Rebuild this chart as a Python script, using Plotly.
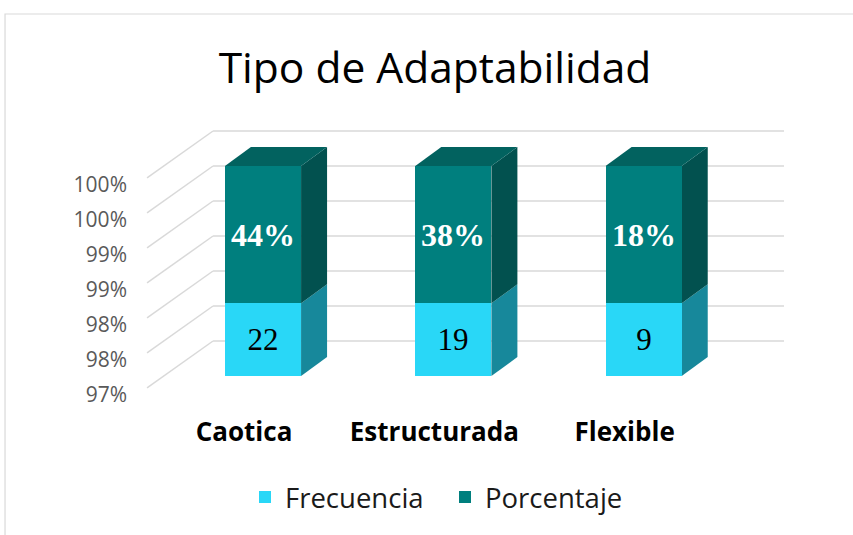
import plotly.graph_objects as go

# ---- data ----
categories = ["Caotica", "Estructurada", "Flexible"]
frecuencia = [22, 19, 9]
porcentaje = [0.44, 0.38, 0.18]
pct_labels = ["44%", "38%", "18%"]
y_tick_vals = [0.97, 0.975, 0.98, 0.985, 0.99, 0.995, 1.0]
y_tick_text = ["97%", "98%", "98%", "99%", "99%", "100%", "100%"]
AXIS_MIN, AXIS_MAX = 0.97, 1.0

# 100% stacked shares
share_f = [f / (f + p) for f, p in zip(frecuencia, porcentaje)]
share_p = [p / (f + p) for f, p in zip(frecuencia, porcentaje)]
xs = list(range(len(categories)))

# ---- layout constants (3D look) ----
BAR_W = 0.40
BAR_DX, BAR_DY = 0.1366, 0.0027
BACK_DX, BACK_DY = 0.2574, 0.0050
FRONT_DX, FRONT_DY = -0.0893, -0.0017
WALL_L, WALL_R = -0.52, 2.48
Y0, Y1 = 0.966571, 1.006571
X0, X1 = -0.6463, 2.8214

C_F_FRONT, C_F_SIDE = "#29D7F7", "#17889B"
C_P_FRONT, C_P_SIDE, C_P_TOP = "#007F7E", "#02514F", "#02625F"
GRID = "#D9D9D9"

fig = go.Figure()

fig.add_trace(go.Bar(
    x=xs, y=[s - AXIS_MIN for s in share_f], base=[AXIS_MIN] * len(xs),
    width=BAR_W, name="Frecuencia", marker=dict(color=C_F_FRONT, line=dict(width=0)),
    text=[str(v) for v in frecuencia], textposition="inside", insidetextanchor="middle",
    textangle=0, constraintext="none",
    textfont=dict(family="Liberation Serif", size=31, color="black"),
    hoverinfo="skip"))
fig.add_trace(go.Bar(
    x=xs, y=share_p, base=share_f,
    width=BAR_W, name="Porcentaje", marker=dict(color=C_P_FRONT, line=dict(width=0)),
    text=["<b>%s</b>" % t for t in pct_labels], textposition="inside", insidetextanchor="middle",
    textangle=0, constraintext="none",
    textfont=dict(family="Liberation Serif", size=32, color="white"),
    hoverinfo="skip"))
# invisible trace for the label axis
fig.add_trace(go.Scatter(x=[0], y=[AXIS_MIN], yaxis="y2", mode="markers",
                         marker=dict(opacity=0), showlegend=False, hoverinfo="skip"))

shapes = []
# gridlines: back wall + left wall
for v in y_tick_vals:
    shapes.append(dict(type="line", xref="x", yref="y", layer="below",
                       x0=WALL_L + BACK_DX, y0=v + BACK_DY, x1=WALL_R + BACK_DX, y1=v + BACK_DY,
                       line=dict(color=GRID, width=1.5)))
    shapes.append(dict(type="line", xref="x", yref="y", layer="below",
                       x0=WALL_L + BACK_DX, y0=v + BACK_DY, x1=WALL_L + FRONT_DX, y1=v + FRONT_DY,
                       line=dict(color=GRID, width=1.5)))

def poly(pts, color):
    d = "M " + " L ".join("%f,%f" % p for p in pts) + " Z"
    return dict(type="path", path=d, xref="x", yref="y", layer="below",
                fillcolor=color, line=dict(width=0))

for i, sf in zip(xs, share_f):
    r = i + BAR_W / 2
    l = i - BAR_W / 2
    shapes.append(poly([(r, AXIS_MIN), (r + BAR_DX, AXIS_MIN + BAR_DY),
                        (r + BAR_DX, sf + BAR_DY), (r, sf)], C_F_SIDE))
    shapes.append(poly([(r, sf), (r + BAR_DX, sf + BAR_DY),
                        (r + BAR_DX, AXIS_MAX + BAR_DY), (r, AXIS_MAX)], C_P_SIDE))
    shapes.append(poly([(l, AXIS_MAX), (r, AXIS_MAX),
                        (r + BAR_DX, AXIS_MAX + BAR_DY), (l + BAR_DX, AXIS_MAX + BAR_DY)], C_P_TOP))

# chart border
shapes.append(dict(type="rect", xref="paper", yref="paper", layer="below",
                   x0=-0.2045, x1=1.2, y0=-0.6, y1=1.3786,
                   line=dict(color="#D9D9D9", width=1.2), fillcolor="rgba(0,0,0,0)"))

fig.update_layout(
    width=853, height=535,
    margin=dict(l=140, r=53, t=120, b=135),
    paper_bgcolor="white", plot_bgcolor="rgba(0,0,0,0)",
    barmode="overlay", bargap=0,
    shapes=shapes,
    title=dict(text="Tipo de Adaptabilidad", x=0.51, xref="container", xanchor="center",
               y=1 - 68 / 535, yref="container", yanchor="middle",
               font=dict(family="Open Sans", size=42.5, color="black")),
    xaxis=dict(range=[X0, X1], tickvals=xs, ticktext=categories, showgrid=False,
               zeroline=False, showline=False, ticks="",
               tickfont=dict(family="Open Sans", size=26, color="black", weight="bold"),
               ticklabelstandoff=14, ticklabelshift=-19),
    yaxis=dict(range=[Y0, Y1], showticklabels=False, showgrid=False, zeroline=False,
               showline=False, ticks=""),
    yaxis2=dict(range=[Y0 - FRONT_DY, Y1 - FRONT_DY], overlaying="y", side="left",
                tickvals=y_tick_vals, ticktext=y_tick_text, showgrid=False, zeroline=False,
                showline=False, ticks="", ticklabelstandoff=12, ticklabelshift=7,
                tickfont=dict(family="Open Sans", size=21, color="#595959")),
    legend=dict(orientation="h", xref="container", yref="container",
                x=445 / 853, xanchor="center", y=1 - 497 / 535, yanchor="middle",
                font=dict(family="Open Sans", size=27.5, color="#1a1a1a"),
                itemwidth=30, entrywidth=155, traceorder="normal"),
    showlegend=True,
)

fig.write_html("out.html", config={"displayModeBar": False},
               post_script="document.body.style.margin='0';")
